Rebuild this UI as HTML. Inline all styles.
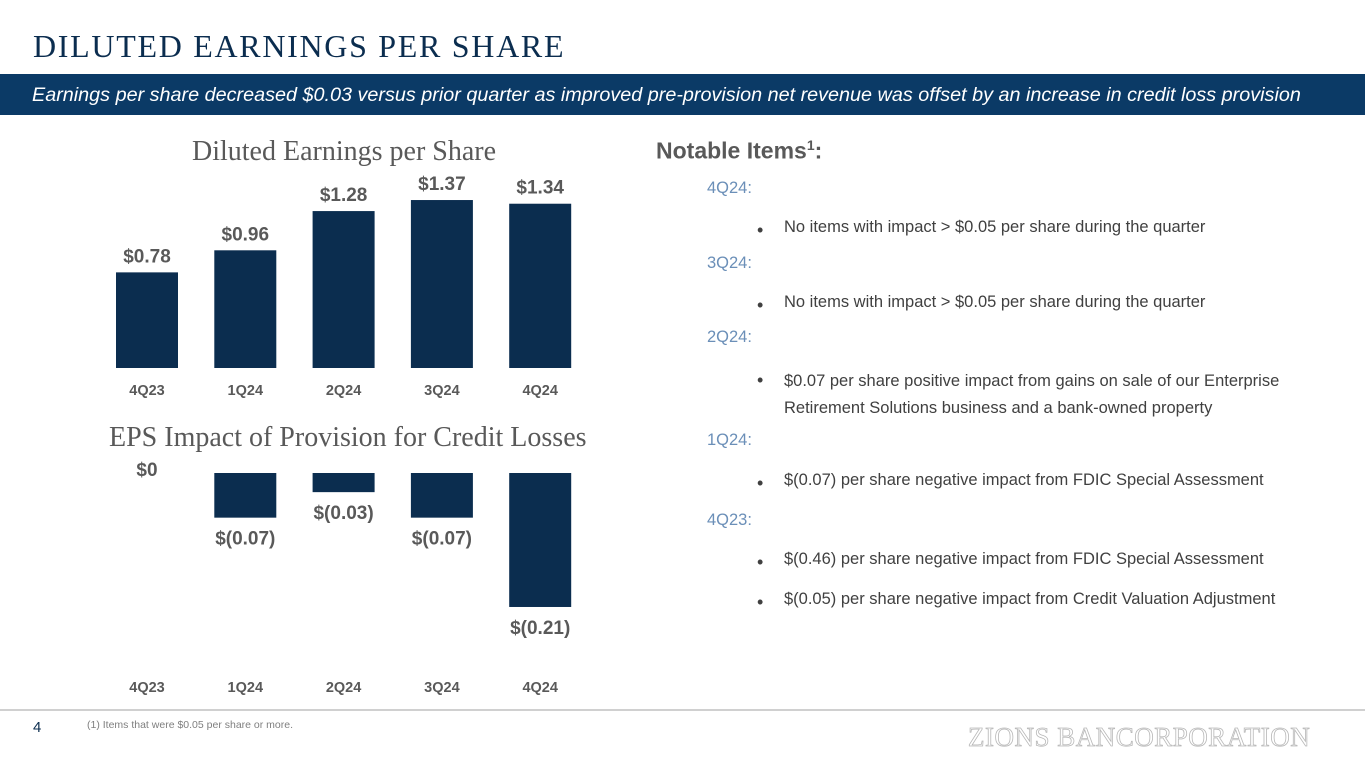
<!DOCTYPE html>
<html><head><meta charset="utf-8"><style>
body{margin:0;width:1365px;height:768px;background:#fff;position:relative;overflow:hidden;font-family:"Liberation Sans",sans-serif}
.abs{position:absolute;white-space:nowrap}
.h{color:#6b8fb8;font-size:16.5px}
.b{color:#404040;font-size:16.5px}
.dot{position:absolute;left:757px;color:#404040;font-size:18px}
</style></head><body>
<div class="abs" style="left:33px;top:28px;font-family:'Liberation Serif',serif;font-size:32px;letter-spacing:1.7px;color:#0b2d4f">DILUTED EARNINGS PER SHARE</div>
<div class="abs" style="left:0;top:74px;width:1365px;height:41px;background:#0b3a66"></div>
<div class="abs" style="left:32px;top:84px;font-size:19.8px;font-style:italic;color:#fff">Earnings per share decreased $0.03 versus prior quarter as improved pre-provision net revenue was offset by an increase in credit loss provision</div>
<div class="abs" style="left:192px;top:136px;font-family:'Liberation Serif',serif;font-size:28px;color:#595959">Diluted Earnings per Share</div>
<div class="abs" style="left:109px;top:422px;font-family:'Liberation Serif',serif;font-size:28px;color:#595959">EPS Impact of Provision for Credit Losses</div>
<svg class="abs" style="left:0;top:0" width="700" height="710" id="svg"></svg>
<div class="abs" style="left:656px;top:137px;font-size:23px;font-weight:bold;color:#595959">Notable Items<sup style="font-size:14px">1</sup>:</div>
<div class="abs h" style="left:707px;top:179px">4Q24:</div>
<div class="dot" style="top:220px">•</div><div class="abs b" style="left:784px;top:218px">No items with impact &gt; $0.05 per share during the quarter</div>
<div class="abs h" style="left:707px;top:254px">3Q24:</div>
<div class="dot" style="top:295px">•</div><div class="abs b" style="left:784px;top:293px">No items with impact &gt; $0.05 per share during the quarter</div>
<div class="abs h" style="left:707px;top:328px">2Q24:</div>
<div class="dot" style="top:370px">•</div><div class="abs b" style="left:784px;top:368px;line-height:27px">$0.07 per share positive impact from gains on sale of our Enterprise<br>Retirement Solutions business and a bank-owned property</div>
<div class="abs h" style="left:707px;top:431px">1Q24:</div>
<div class="dot" style="top:473px">•</div><div class="abs b" style="left:784px;top:471px">$(0.07) per share negative impact from FDIC Special Assessment</div>
<div class="abs h" style="left:707px;top:511px">4Q23:</div>
<div class="dot" style="top:552px">•</div><div class="abs b" style="left:784px;top:550px">$(0.46) per share negative impact from FDIC Special Assessment</div>
<div class="dot" style="top:592px">•</div><div class="abs b" style="left:784px;top:590px">$(0.05) per share negative impact from Credit Valuation Adjustment</div>
<div class="abs" style="left:0;top:709px;width:1365px;height:2px;background:#d0d0d0"></div>
<div class="abs" style="left:33px;top:719px;font-size:15px;color:#0b2d4f">4</div>
<div class="abs" style="left:87px;top:719px;font-size:10.5px;color:#7f7f7f">(1) Items that were $0.05 per share or more.</div>
<div class="abs" style="left:968px;top:722px;font-family:'Liberation Serif',serif;font-size:27px;color:#fff;-webkit-text-stroke:0.8px #b8b8b8;letter-spacing:0.5px">ZIONS BANCORPORATION</div>
<script>
const categories=["4Q23","1Q24","2Q24","3Q24","4Q24"];
const epsValues=[0.78,0.96,1.28,1.37,1.34];
const epsLabels=["$0.78","$0.96","$1.28","$1.37","$1.34"];
const provValues=[0,-0.07,-0.03,-0.07,-0.21];
const provLabels=["$0","$(0.07)","$(0.03)","$(0.07)","$(0.21)"];
const svg=document.getElementById('svg');const NS='http://www.w3.org/2000/svg';
const xC=i=>147+i*98.3;const bw=62;
const y1=v=>368-v*122.6;const y2=v=>473-v*638;
function mk(t,a){const e=document.createElementNS(NS,t);for(const k in a)e.setAttribute(k,a[k]);svg.appendChild(e);return e;}
categories.forEach((c,i)=>{
 const r=mk('rect',{x:xC(i)-bw/2,y:y1(epsValues[i]),width:bw,height:y1(0)-y1(epsValues[i]),fill:'#0b2d4f'});
 
 
 const t=mk('text',{x:xC(i),y:y1(epsValues[i])-10,'text-anchor':'middle','font-size':19,'font-weight':'bold',fill:'#595959','font-family':'Liberation Sans,sans-serif'});t.textContent=epsLabels[i];
 
 
 const a=mk('text',{x:xC(i),y:395,'text-anchor':'middle','font-size':14.5,'font-weight':'bold',fill:'#595959','font-family':'Liberation Sans,sans-serif'});a.textContent=c;
 
 
 if(provValues[i]<0){const r2=mk('rect',{x:xC(i)-bw/2,y:y2(0),width:bw,height:y2(provValues[i])-y2(0),fill:'#0b2d4f'});
 
 }
 const ly=provValues[i]<0?y2(provValues[i])+27:y2(0)+3;
 const t2=mk('text',{x:xC(i),y:ly,'text-anchor':'middle','font-size':19,'font-weight':'bold',fill:'#595959','font-family':'Liberation Sans,sans-serif'});t2.textContent=provLabels[i];
 
 
 const a2=mk('text',{x:xC(i),y:692,'text-anchor':'middle','font-size':14.5,'font-weight':'bold',fill:'#595959','font-family':'Liberation Sans,sans-serif'});a2.textContent=c;
 
 
});
</script>
</body></html>
